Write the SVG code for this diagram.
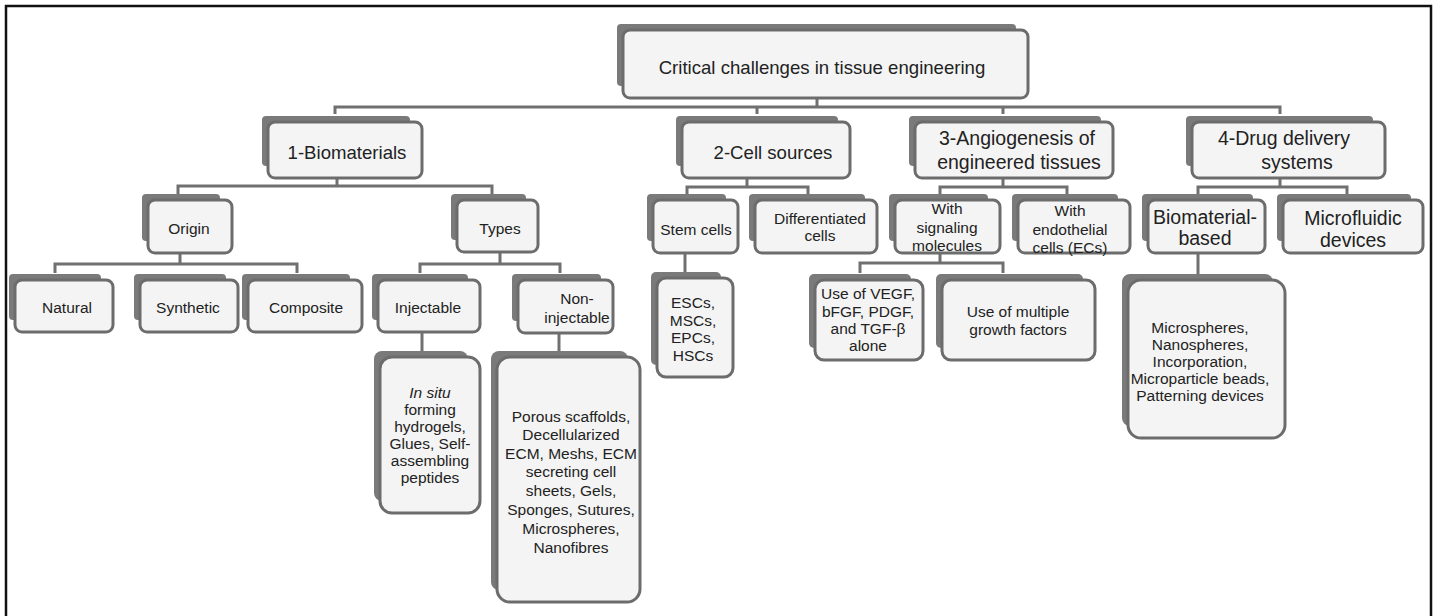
<svg xmlns="http://www.w3.org/2000/svg" width="1438" height="616" viewBox="0 0 1438 616">
<style>
.back{fill:#7a7a7a}
.card{fill:#f4f4f4;stroke:#6c6c6c;stroke-width:3}
.lbl{font-family:"Liberation Sans",Arial,sans-serif;fill:#222;text-anchor:middle}
.s15{font-size:15.5px}
.s18{font-size:18.6px}
.s19{font-size:19.5px}
.conn{fill:none;stroke:#707070;stroke-width:3}
</style>
<rect width="1438" height="616" fill="#fff"/>
<path d="M6,616 V6 H1431 V616" fill="none" stroke="#111" stroke-width="2.5"/>

<g id="connectors" class="conn">
<path d="M817,98 V107 M335,114 V107 H1280 V114 M757,107 V114 M1003,107 V114"/>
<path d="M337,178 V186 M178,194 V186 H492 V194"/>
<path d="M747,178 V187 M687,194 V187 H808 V194"/>
<path d="M1003,178 V187 M940,194 V187 H1067 V194"/>
<path d="M1280,178 V187 M1198,194 V187 H1347 V194"/>
<path d="M180,253 V264 M55,273 V264 H297 V273"/>
<path d="M500,252 V264 M420,273 V264 H560 V273"/>
<path d="M940,253 V263 M860,273 V263 H1003 V273"/>
<path d="M685,253 V272"/>
<path d="M422,332 V351"/>
<path d="M559,333 V351"/>
<path d="M1198,253 V274"/>
</g>

<g id="root">
<rect class="back" x="617" y="24" width="399" height="62" rx="4"/>
<rect class="card" x="623" y="30" width="405" height="68" rx="7"/>
<text class="lbl s18" x="822" y="73.5">Critical challenges in tissue engineering</text>
</g>

<g id="biomaterials">
<rect class="back" x="262" y="116" width="148" height="50" rx="4"/>
<rect class="card" x="268" y="122" width="154" height="56" rx="7"/>
<text class="lbl s18" x="347" y="158.5">1-Biomaterials</text>
</g>

<g id="cell-sources">
<rect class="back" x="676" y="116" width="162" height="50" rx="4"/>
<rect class="card" x="682" y="122" width="168" height="56" rx="7"/>
<text class="lbl s18" x="773" y="158.5">2-Cell sources</text>
</g>

<g id="angiogenesis">
<rect class="back" x="909" y="116" width="192" height="50" rx="4"/>
<rect class="card" x="915" y="122" width="198" height="56" rx="7"/>
<text class="lbl s19"><tspan x="1017" y="144.8">3-Angiogenesis of</tspan><tspan x="1019" y="168.8">engineered tissues</tspan></text>
</g>

<g id="drug-delivery">
<rect class="back" x="1186" y="116" width="187" height="50" rx="4"/>
<rect class="card" x="1192" y="122" width="193" height="56" rx="7"/>
<text class="lbl s19"><tspan x="1284" y="144.8">4-Drug delivery</tspan><tspan x="1297" y="168.8">systems</tspan></text>
</g>

<g id="origin">
<rect class="back" x="142" y="194" width="78" height="47" rx="4"/>
<rect class="card" x="148" y="200" width="84" height="53" rx="7"/>
<text class="lbl s15" x="189" y="233.5">Origin</text>
</g>

<g id="types">
<rect class="back" x="451" y="194" width="75" height="46" rx="4"/>
<rect class="card" x="457" y="200" width="81" height="52" rx="7"/>
<text class="lbl s15" x="500" y="233.5">Types</text>
</g>

<g id="stem-cells">
<rect class="back" x="647" y="194" width="79" height="47" rx="4"/>
<rect class="card" x="653" y="200" width="85" height="53" rx="7"/>
<text class="lbl s15" x="696" y="234.5">Stem cells</text>
</g>

<g id="differentiated-cells">
<rect class="back" x="749" y="194" width="116" height="47" rx="4"/>
<rect class="card" x="755" y="200" width="122" height="53" rx="7"/>
<text class="lbl s15"><tspan x="820" y="223.5">Differentiated</tspan><tspan x="820" y="240.5">cells</tspan></text>
</g>

<g id="signaling-molecules">
<rect class="back" x="889" y="194" width="99" height="47" rx="4"/>
<rect class="card" x="895" y="200" width="105" height="53" rx="7"/>
<text class="lbl s15"><tspan x="947" y="213.5">With</tspan><tspan x="947" y="232.5">signaling</tspan><tspan x="947" y="250.5">molecules</tspan></text>
</g>

<g id="endothelial-cells">
<rect class="back" x="1012" y="194" width="106" height="47" rx="4"/>
<rect class="card" x="1018" y="200" width="112" height="53" rx="7"/>
<text class="lbl s15"><tspan x="1070" y="215.5">With</tspan><tspan x="1070" y="234.5">endothelial</tspan><tspan x="1070" y="252.5">cells (ECs)</tspan></text>
</g>

<g id="biomaterial-based">
<rect class="back" x="1142" y="194" width="111" height="47" rx="4"/>
<rect class="card" x="1148" y="200" width="117" height="53" rx="7"/>
<text class="lbl s19"><tspan x="1205" y="223.8">Biomaterial-</tspan><tspan x="1205" y="244.8">based</tspan></text>
</g>

<g id="microfluidic">
<rect class="back" x="1277" y="194" width="134" height="47" rx="4"/>
<rect class="card" x="1283" y="200" width="140" height="53" rx="7"/>
<text class="lbl s19"><tspan x="1353" y="224.8">Microfluidic</tspan><tspan x="1353" y="246.8">devices</tspan></text>
</g>

<g id="natural">
<rect class="back" x="9" y="274" width="92" height="46" rx="4"/>
<rect class="card" x="15" y="280" width="98" height="52" rx="7"/>
<text class="lbl s15" x="67" y="312.5">Natural</text>
</g>

<g id="synthetic">
<rect class="back" x="134" y="274" width="92" height="46" rx="4"/>
<rect class="card" x="140" y="280" width="98" height="52" rx="7"/>
<text class="lbl s15" x="188" y="312.5">Synthetic</text>
</g>

<g id="composite">
<rect class="back" x="242" y="274" width="108" height="46" rx="4"/>
<rect class="card" x="248" y="280" width="114" height="52" rx="7"/>
<text class="lbl s15" x="306" y="312.5">Composite</text>
</g>

<g id="injectable">
<rect class="back" x="372" y="274" width="96" height="46" rx="4"/>
<rect class="card" x="378" y="280" width="102" height="52" rx="7"/>
<text class="lbl s15" x="428" y="312.5">Injectable</text>
</g>

<g id="non-injectable">
<rect class="back" x="512" y="274" width="89" height="47" rx="4"/>
<rect class="card" x="518" y="280" width="95" height="53" rx="7"/>
<text class="lbl s15"><tspan x="577" y="303.5">Non-</tspan><tspan x="577" y="322.5">injectable</tspan></text>
</g>

<g id="stem-cell-types">
<rect class="back" x="651" y="272" width="70" height="93" rx="5"/>
<rect class="card" x="657" y="278" width="76" height="99" rx="9"/>
<text class="lbl s15"><tspan x="693" y="307.5">ESCs,</tspan><tspan x="693" y="325.5">MSCs,</tspan><tspan x="693" y="343">EPCs,</tspan><tspan x="693" y="360.5">HSCs</tspan></text>
</g>

<g id="vegf-alone">
<rect class="back" x="809" y="274" width="102" height="74" rx="5"/>
<rect class="card" x="815" y="280" width="108" height="80" rx="9"/>
<text class="lbl s15"><tspan x="868" y="298.5">Use of VEGF,</tspan><tspan x="868" y="316.5">bFGF, PDGF,</tspan><tspan x="868" y="333.5">and TGF-β</tspan><tspan x="868" y="351">alone</tspan></text>
</g>

<g id="multiple-growth-factors">
<rect class="back" x="936" y="274" width="147" height="74" rx="5"/>
<rect class="card" x="942" y="280" width="153" height="80" rx="9"/>
<text class="lbl s15"><tspan x="1018" y="317">Use of multiple</tspan><tspan x="1018" y="334.5">growth factors</tspan></text>
</g>

<g id="biomaterial-examples">
<rect class="back" x="1122" y="274" width="151" height="152" rx="8"/>
<rect class="card" x="1128" y="280" width="157" height="158" rx="13"/>
<text class="lbl s15"><tspan x="1200" y="332.5">Microspheres,</tspan><tspan x="1200" y="350">Nanospheres,</tspan><tspan x="1200" y="367">Incorporation,</tspan><tspan x="1200" y="384">Microparticle beads,</tspan><tspan x="1200" y="401">Patterning devices</tspan></text>
</g>

<g id="injectable-examples">
<rect class="back" x="374" y="351" width="94" height="150" rx="8"/>
<rect class="card" x="380" y="357" width="100" height="156" rx="12"/>
<text class="lbl s15"><tspan x="430" y="397.5" font-style="italic">In situ</tspan><tspan x="430" y="414.5">forming</tspan><tspan x="430" y="431.5">hydrogels,</tspan><tspan x="430" y="448.5">Glues, Self-</tspan><tspan x="430" y="465.5">assembling</tspan><tspan x="430" y="482.5">peptides</tspan></text>
</g>

<g id="non-injectable-examples">
<rect class="back" x="491" y="351" width="137" height="239" rx="8"/>
<rect class="card" x="497" y="357" width="143" height="245" rx="13"/>
<text class="lbl s15"><tspan x="571" y="421.5">Porous scaffolds,</tspan><tspan x="571" y="440">Decellularized</tspan><tspan x="571" y="458.5">ECM, Meshs, ECM</tspan><tspan x="571" y="477">secreting cell</tspan><tspan x="571" y="496">sheets, Gels,</tspan><tspan x="571" y="514.5">Sponges, Sutures,</tspan><tspan x="571" y="533.5">Microspheres,</tspan><tspan x="571" y="552.5">Nanofibres</tspan></text>
</g>
</svg>
